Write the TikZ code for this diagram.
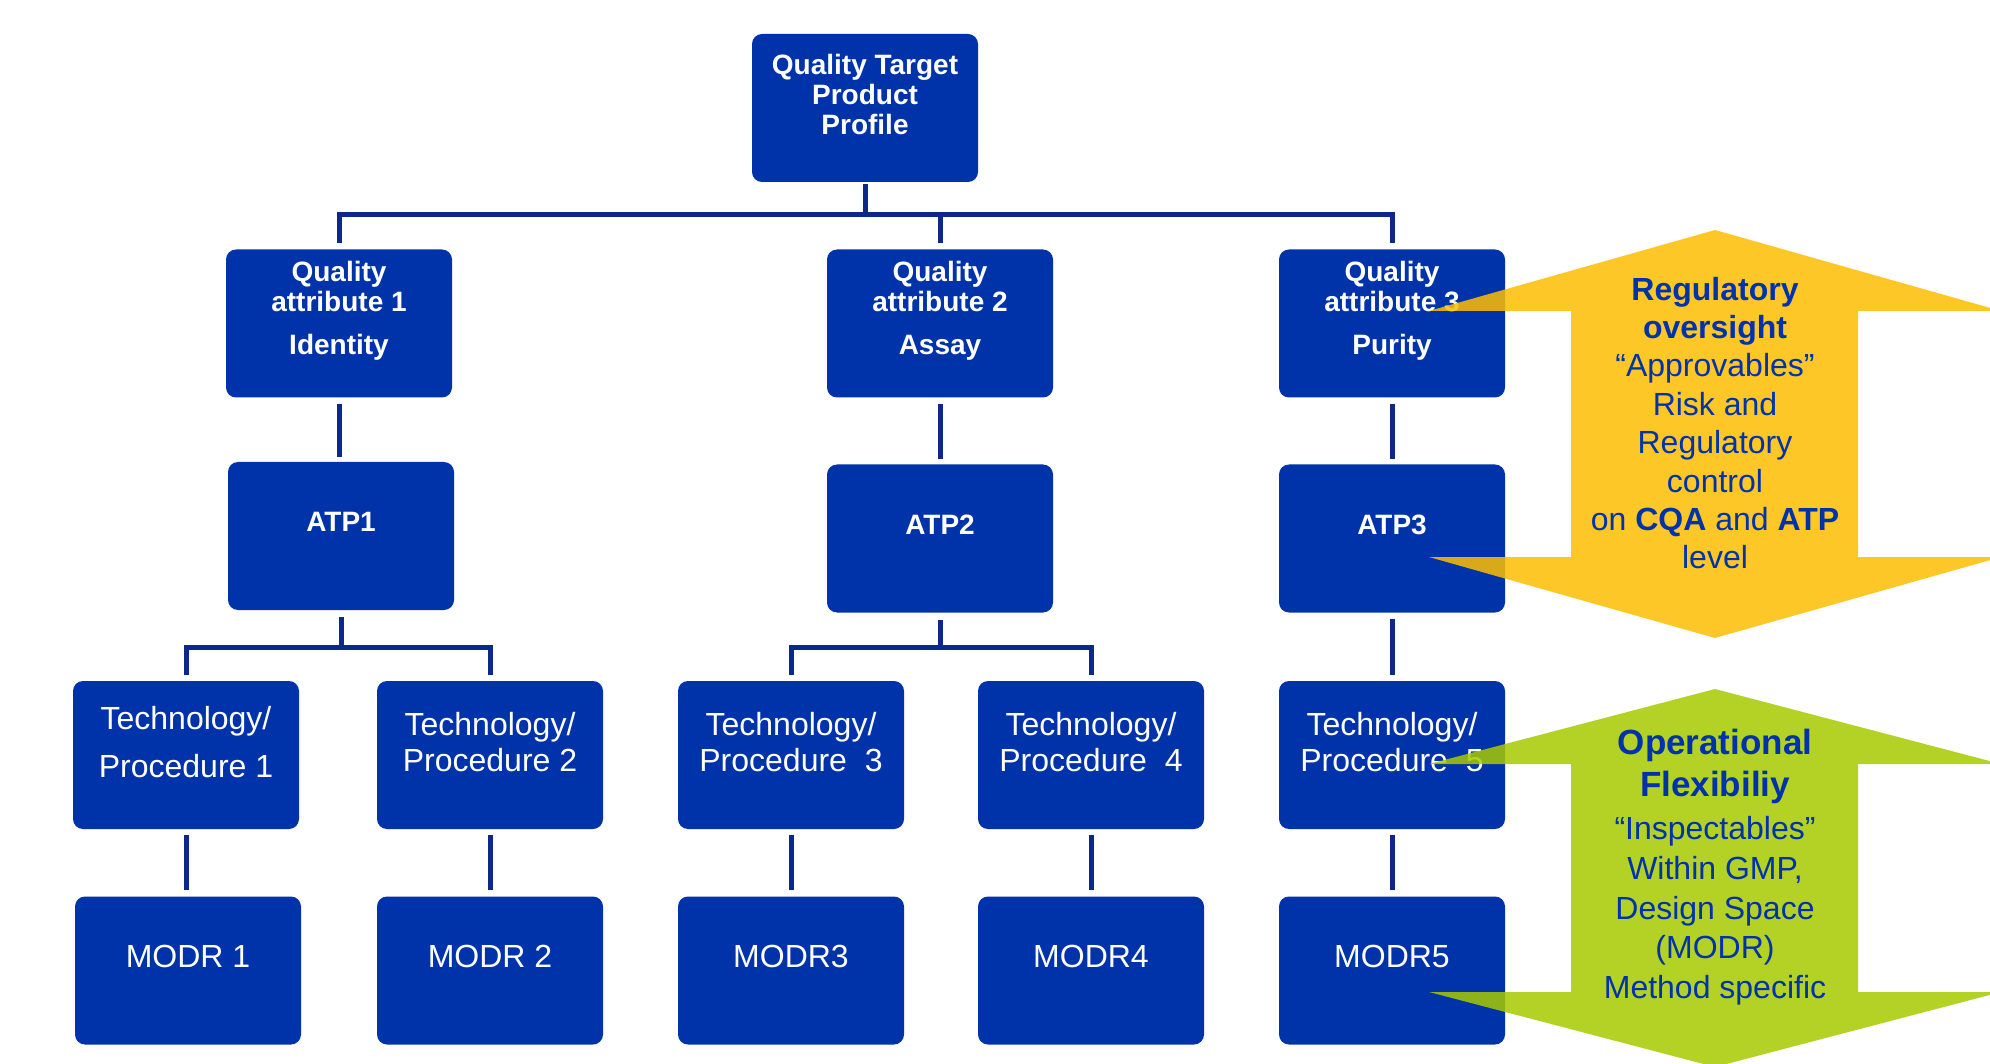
\documentclass[tikz,border=0pt]{standalone}
\usepackage{fontspec}
\setmainfont{Liberation Sans}
\definecolor{boxblue}{RGB}{0,51,170}
\definecolor{linenavy}{RGB}{12,40,140}
\definecolor{txtblue}{RGB}{0,51,170}
\definecolor{arrowyellow}{RGB}{253,190,2}
\definecolor{arrowgreen}{RGB}{168,201,0}
\begin{document}
\begin{tikzpicture}[x=1pt,y=-1pt,
 box/.style={fill=boxblue, rounded corners=10pt, minimum width=226pt, minimum height=148pt, inner sep=0pt, draw=none},
 wbold/.style={text=white, font=\bfseries\fontsize{28}{30}\selectfont, align=center, inner sep=0pt},
 wreg/.style={text=white, font=\fontsize{32}{36}\selectfont, align=center, inner sep=0pt},
 conn/.style={draw=linenavy, line width=5pt},
 bigarrow/.style={opacity=0.85, draw=none},
 atext/.style={text=txtblue, font=\fontsize{32}{38.4}\selectfont, align=center, inner sep=0pt}]
\useasboundingbox (0,0) rectangle (1990,1064);
\clip (0,0) rectangle (1990,1064);
\fill[white] (0,0) rectangle (1990,1064);

% boxes
\node[box] (qtpp) at (865,108) {};
\node[box] (qa1) at (339,323.5) {};
\node[box] (qa2) at (940,323.5) {};
\node[box] (qa3) at (1392,323.5) {};
\node[box] (atp1) at (341,536) {};
\node[box] (atp2) at (940,538.5) {};
\node[box] (atp3) at (1392,538.5) {};
\node[box] (t1) at (186,755) {};
\node[box] (t2) at (490,755) {};
\node[box] (t3) at (791,755) {};
\node[box] (t4) at (1091,755) {};
\node[box] (t5) at (1392,755) {};
\node[box] (m1) at (188,970.5) {};
\node[box] (m2) at (490,970.5) {};
\node[box] (m3) at (791,970.5) {};
\node[box] (m4) at (1091,970.5) {};
\node[box] (m5) at (1392,970.5) {};

% box texts
\node[wbold] (qtppt) at (865,94) {Quality Target\\Product\\Profile};
\node[wbold] (qa1t) at (339,311) {Quality\\attribute 1\\[13pt]Identity};
\node[wbold] (qa2t) at (940,311) {Quality\\attribute 2\\[13pt]Assay};
\node[wbold] (qa3t) at (1392,311) {Quality\\attribute 3\\[13pt]Purity};
\node[wbold] (atp1t) at (341,522) {ATP1};
\node[wbold] (atp2t) at (940,525) {ATP2};
\node[wbold] (atp3t) at (1392,525) {ATP3};
\node[wreg] (t1t) at (186,742) {Technology/\\[12pt]Procedure 1};
\node[wreg] (t2t) at (490,742) {Technology/\\Procedure 2};
\node[wreg] (t3t) at (791,742) {Technology/\\Procedure\ \ 3};
\node[wreg] (t4t) at (1091,742) {Technology/\\Procedure\ \ 4};
\node[wreg] (t5t) at (1392,742) {Technology/\\Procedure\ \ 5};
\node[wreg] (m1t) at (188,956) {MODR 1};
\node[wreg] (m2t) at (490,956) {MODR 2};
\node[wreg] (m3t) at (791,956) {MODR3};
\node[wreg] (m4t) at (1091,956) {MODR4};
\node[wreg] (m5t) at (1392,956) {MODR5};

% connectors
\coordinate (bus1) at (865,215);
\draw[conn, shorten <=2pt] (qtpp.south) -- (bus1);
\draw[conn, shorten >=6pt] (bus1) -| (qa1.north);
\draw[conn, shorten >=6pt] (bus1) -| (qa2.north);
\draw[conn, shorten >=6pt] (bus1) -| (qa3.north);

\draw[conn, shorten <=6pt, shorten >=5pt] (qa1.south) -- (qa1.south |- atp1.north);
\draw[conn, shorten <=6pt, shorten >=5pt] (qa2.south) -- (atp2.north);
\draw[conn, shorten <=6pt, shorten >=5pt] (qa3.south) -- (atp3.north);

\coordinate (bus2) at (341,647);
\draw[conn, shorten <=7pt] (atp1.south) -- (bus2);
\draw[conn, shorten >=6pt] (bus2) -| (t1.north);
\draw[conn, shorten >=6pt] (bus2) -| (t2.north);

\coordinate (bus3) at (940,647);
\draw[conn, shorten <=7pt] (atp2.south) -- (bus3);
\draw[conn, shorten >=6pt] (bus3) -| (t3.north);
\draw[conn, shorten >=6pt] (bus3) -| (t4.north);

\draw[conn, shorten <=6pt, shorten >=6pt] (atp3.south) -- (t5.north);

\draw[conn, shorten <=6pt, shorten >=6pt] (t1.south) -- (t1.south |- m1.north);
\draw[conn, shorten <=6pt, shorten >=6pt] (t2.south) -- (m2.north);
\draw[conn, shorten <=6pt, shorten >=6pt] (t3.south) -- (m3.north);
\draw[conn, shorten <=6pt, shorten >=6pt] (t4.south) -- (m4.north);
\draw[conn, shorten <=6pt, shorten >=6pt] (t5.south) -- (m5.north);

% big double arrows
\fill[arrowyellow, bigarrow] (1715,230) -- (2001,311) -- (1858,311) -- (1858,557) -- (2001,557) -- (1715,638) -- (1429,557) -- (1571,557) -- (1571,311) -- (1429,311) -- cycle;
\fill[arrowgreen, bigarrow] (1715,689) -- (2001,764) -- (1858,764) -- (1858,992) -- (2001,992) -- (1715,1067) -- (1429,992) -- (1571,992) -- (1571,764) -- (1429,764) -- cycle;

\node[atext] (regt) at (1715,423) {\textbf{Regulatory}\\\textbf{oversight}\\“Approvables”\\Risk and\\Regulatory\\control\\on \textbf{CQA} and \textbf{ATP}\\level};
\node[atext, font=\fontsize{32}{39.5}\selectfont] (opt) at (1715,867) {\textbf{\fontsize{35}{39.5}\selectfont Operational}\\[3pt]\textbf{\fontsize{35}{39.5}\selectfont Flexibiliy}\\[3pt]“Inspectables”\\[1pt]Within GMP,\\Design Space\\(MODR)\\Method specific};
\end{tikzpicture}
\end{document}
